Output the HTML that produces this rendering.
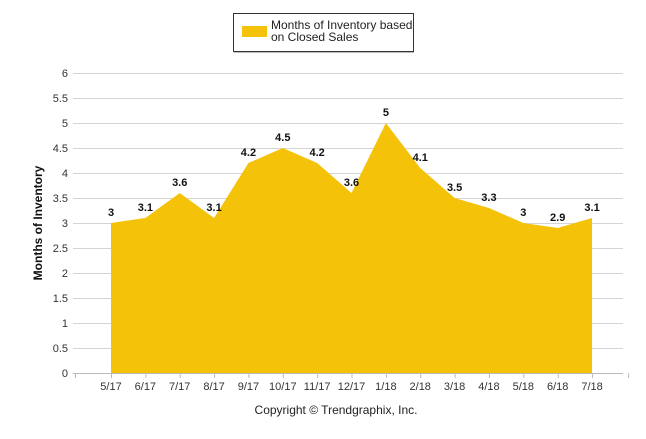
<!DOCTYPE html>
<html><head><meta charset="utf-8"><style>
body{margin:0;background:#fff;}
svg text{font-family:"Liberation Sans",sans-serif;}
</style></head><body>
<svg width="646" height="434" viewBox="0 0 646 434">
<g>
<rect x="233.5" y="13.5" width="180" height="38" fill="#fff" stroke="#333"/>
<line x1="234" y1="52.5" x2="414" y2="52.5" stroke="#bbb"/>
<rect x="242" y="26" width="25" height="11" fill="#f5c20a"/>
<text x="271" y="29" font-size="12" fill="#222">Months of Inventory based</text>
<text x="271" y="41" font-size="12" fill="#222">on Closed Sales</text>
</g>
<g id="grid"></g>
<g id="area"></g>
<g id="labels"></g>
<text transform="translate(42,223) rotate(-90)" text-anchor="middle" font-size="12" font-weight="bold" fill="#111">Months of Inventory</text>
<text x="336" y="414" text-anchor="middle" font-size="12" fill="#222">Copyright © Trendgraphix, Inc.</text>
</svg>
<script>
const categories=["5/17","6/17","7/17","8/17","9/17","10/17","11/17","12/17","1/18","2/18","3/18","4/18","5/18","6/18","7/18"];
const values=[3,3.1,3.6,3.1,4.2,4.5,4.2,3.6,5,4.1,3.5,3.3,3,2.9,3.1];
const yTicks=[0,0.5,1,1.5,2,2.5,3,3.5,4,4.5,5,5.5,6];
const NS="http://www.w3.org/2000/svg";
const x0=111,step=34.36,y0=373,ppu=50;
const xs=i=>x0+i*step, ys=v=>y0-v*ppu;
function mk(t,a,p){const e=document.createElementNS(NS,t);for(const k in a)e.setAttribute(k,a[k]);p.appendChild(e);return e;}
const grid=document.getElementById('grid');
yTicks.forEach(t=>{
 const l=mk('line',{x1:73,x2:623,y1:ys(t)+0.5,y2:ys(t)+0.5,stroke:t===0?'#bbb':'#d4d4d4'},grid);
 
 
 const tx=mk('text',{x:68,y:ys(t)+4,'text-anchor':'end','font-size':11,fill:'#333'},grid);
 tx.textContent=t;
 
 
});
for(let i=0;i<=16;i++){
 const xx=x0-step+ (i)*step - step/2 + step/2;
}
// x ticks at category positions and axis ends
const ticksG=grid;
[-1.05].concat(categories.map((c,i)=>i)).concat([15.05]).forEach(i=>{
 const t=mk('line',{x1:xs(i)+0.5,x2:xs(i)+0.5,y1:y0,y2:y0+5,stroke:'#bbb'},ticksG);
 
 
});
let d=`M${xs(0)},${y0}`;
values.forEach((v,i)=>d+=` L${xs(i)},${ys(v)}`);
d+=` L${xs(values.length-1)},${y0} Z`;
const area=mk('path',{d:d,fill:'#f5c20a'},document.getElementById('area'));


const lab=document.getElementById('labels');
values.forEach((v,i)=>{
 const t=mk('text',{x:xs(i),y:ys(v)-7,'text-anchor':'middle','font-size':11,'font-weight':'bold',fill:'#111'},lab);
 t.textContent=v;
 
 
});
categories.forEach((c,i)=>{
 const t=mk('text',{x:xs(i),y:390,'text-anchor':'middle','font-size':11,fill:'#333'},lab);
 t.textContent=c;
 
 
});
</script>
</body></html>
